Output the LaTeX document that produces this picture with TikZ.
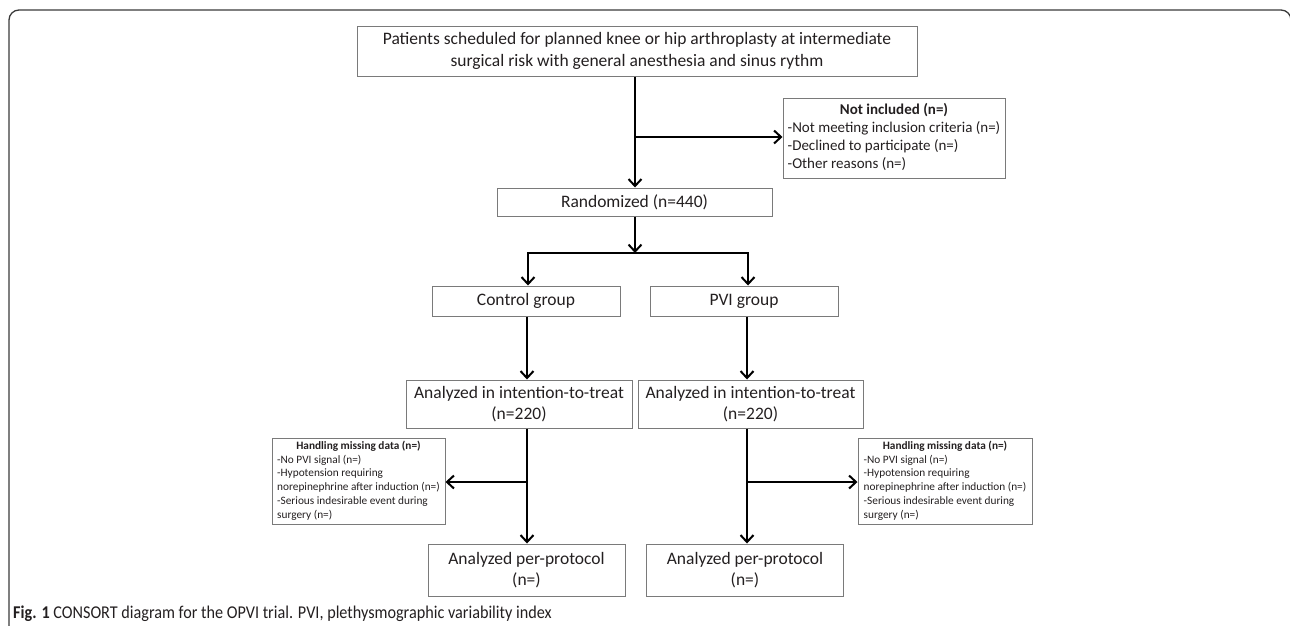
\documentclass[tikz,border=0pt]{standalone}
\usepackage{fontspec}
\setmainfont{Carlito}
\newfontfamily\capfont[FakeStretch=0.9]{Carlito}
\usetikzlibrary{arrows.meta,calc}
\definecolor{boxline}{HTML}{7A7A7A}
\definecolor{ink}{HTML}{231F20}
\definecolor{framec}{HTML}{3A3A3A}
\tikzset{
  stepbox/.style={draw=boxline, line width=1pt, inner sep=0pt, align=center, text=ink,
    font=\fontsize{17.5}{21.5}\selectfont},
  notebox/.style={draw=boxline, line width=1pt, inner sep=0pt, text=ink},
  flow/.style={draw=black, line width=2pt, -{Straight Barb[length=7pt,width=13pt,line width=2pt]}},
  plain/.style={draw=black, line width=2pt},
}
\newcommand{\handlingtext}{\begin{tabular}{@{}l@{}}
\multicolumn{1}{@{}c@{}}{\textbf{Handling missing data (n=)}}\\
-No PVI signal (n=)\\
-Hypotension requiring\\
norepinephrine after induction (n=)\\
-Serious indesirable event during\\
surgery (n=)
\end{tabular}}
\begin{document}
\begin{tikzpicture}[x=1pt,y=-1pt]
\useasboundingbox (0,0) rectangle (1290,625);
\begin{scope}
\clip (0,0) rectangle (1290,625);
\draw[framec, line width=1.3pt, rounded corners=10pt] (9,700) -- (9,10) -- (1291,10) -- (1291,700);
\end{scope}

% columns
\coordinate (cM) at (635,0);
\coordinate (cL) at (527,0);
\coordinate (cR) at (747,0);

\node[stepbox, minimum width=560pt, minimum height=50pt] (p1) at (637,51)
  {Patients scheduled for planned knee or hip arthroplasty at intermediate\\surgical risk with general anesthesia and sinus rythm};

\node[notebox, minimum width=222pt, minimum height=80pt,
  font=\fontsize{15}{18.2}\selectfont] (ni) at (894,138)
  {\begin{tabular}{@{}l@{}}
   \multicolumn{1}{@{}c@{}}{\textbf{Not included (n=)}}\\
   -Not meeting inclusion criteria (n=)\\
   -Declined to participate (n=)\\
   -Other reasons (n=)
   \end{tabular}};

\node[stepbox, minimum width=275pt, minimum height=28pt] (rnd) at (634.5,202) {Randomized (n=440)};

\node[stepbox, minimum width=188pt, minimum height=30pt] (ctl) at (526,301) {Control group};
\node[stepbox, minimum width=188pt, minimum height=30pt] (pvi) at (744,301) {PVI group};

\node[stepbox, minimum width=226pt, minimum height=48pt] (itt1) at (519,404) {Analyzed in intention-to-treat\\(n=220)};
\node[stepbox, minimum width=225pt, minimum height=48pt] (itt2) at (750.5,404) {Analyzed in intention-to-treat\\(n=220)};

\node[notebox, minimum width=173pt, minimum height=86pt,
  font=\fontsize{11.3}{13.7}\selectfont] (h1) at (358.5,481) {\handlingtext};
\node[notebox, minimum width=174pt, minimum height=86pt,
  font=\fontsize{11.3}{13.7}\selectfont] (h2) at (945,481) {\handlingtext};

\node[stepbox, minimum width=197pt, minimum height=52pt] (pp1) at (526.5,570) {Analyzed per-protocol\\(n=)};
\node[stepbox, minimum width=197pt, minimum height=52pt] (pp2) at (745,570) {Analyzed per-protocol\\(n=)};

% connectors
\coordinate (b1) at (635,137);
\draw[flow] (cM |- p1.south) -- (cM |- rnd.north);
\draw[flow] (b1) -- (b1 -| ni.west);

\coordinate (s0) at (635,253);
\coordinate (sL) at (528,253);
\coordinate (sR) at (748,253);
\draw[flow] (cM |- rnd.south) -- (s0);
\draw[plain, line cap=rect] (sL) -- (sR);
\draw[flow] (sL) -- (sL |- ctl.north);
\draw[flow] (sR) -- (sR |- pvi.north);

\draw[flow] (cL |- ctl.south) -- (cL |- itt1.north);
\draw[flow] (cR |- pvi.south) -- (cR |- itt2.north);

\coordinate (hL) at (527,482);
\coordinate (hR) at (747,482);
\draw[flow] (cL |- itt1.south) -- (cL |- pp1.north);
\draw[flow] (cR |- itt2.south) -- (cR |- pp2.north);
\draw[flow] (hL) -- (hL -| h1.east);
\draw[flow] (hR) -- (hR -| h2.west);

\node[anchor=base west, text=ink, inner sep=0pt, font=\capfont\fontsize{18}{20}\selectfont] (cap) at (13,618)
  {\textbf{Fig. 1} CONSORT diagram for the OPVI trial. PVI, plethysmographic variability index};
\end{tikzpicture}
\end{document}
